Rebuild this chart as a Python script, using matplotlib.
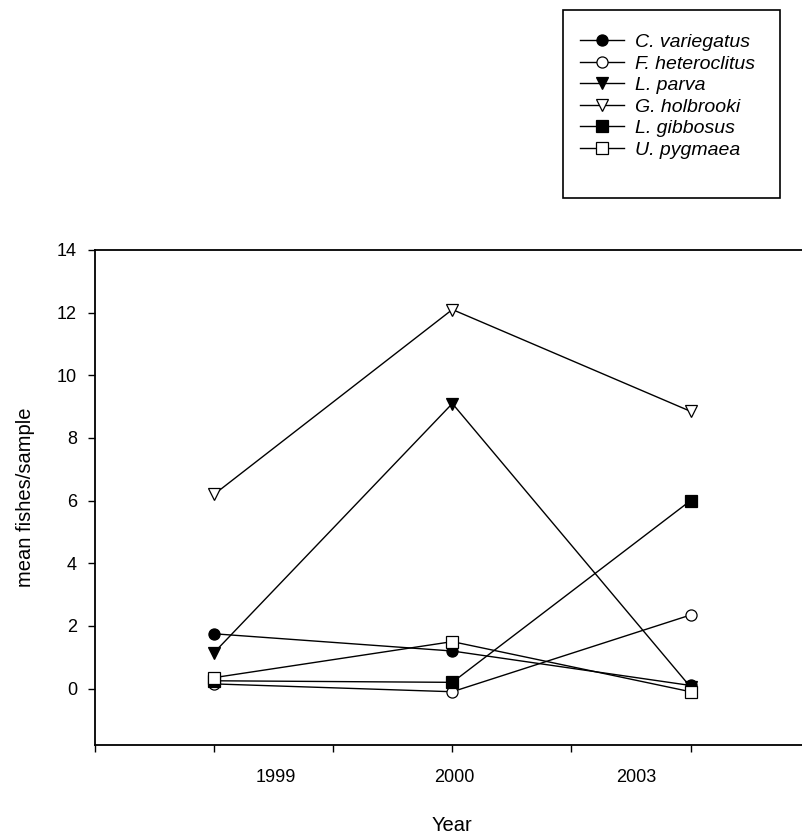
import matplotlib
matplotlib.use("Agg")
import matplotlib.pyplot as plt
from matplotlib.patches import Rectangle
from matplotlib.ticker import FixedLocator

plt.rcParams["font.family"] = ["Liberation Sans", "DejaVu Sans"]

years = ["1999", "2000", "2003"]
species = ["C. variegatus", "F. heteroclitus", "L. parva", "G. holbrooki", "L. gibbosus", "U. pygmaea"]
c_variegatus = [1.75, 1.2, 0.1]
f_heteroclitus = [0.15, -0.1, 2.35]
l_parva = [1.15, 9.1, 0.05]
g_holbrooki = [6.2, 12.1, 8.85]
l_gibbosus = [0.25, 0.2, 6.0]
u_pygmaea = [0.35, 1.5, -0.1]

series = [c_variegatus, f_heteroclitus, l_parva, g_holbrooki, l_gibbosus, u_pygmaea]
markers = ["o", "o", "v", "v", "s", "s"]
faces = ["black", "white", "black", "white", "black", "white"]

W, H = 803, 840
fig = plt.figure(figsize=(W / 100, H / 100), dpi=100)
ax = fig.add_axes([95 / W, 1 - 745 / H, 0.89, (745 - 250) / H])

x = list(range(1, len(years) + 1))
for name, vals, m, fc in zip(species, series, markers, faces):
    ax.plot(x, vals, color="black", linewidth=1.0, marker=m, markersize=8,
            markerfacecolor=fc, markeredgecolor="black", markeredgewidth=0.9, label=name)

ax.set_xlim(0.5, 3.5)
ax.set_ylim(-1.8, 14)
ax.set_yticks(range(0, 15, 2))

# the year labels sit off the tick marks in the original figure
ax.set_xticks([1.26, 2.01, 2.77])
ax.set_xticklabels(years)
ax.xaxis.set_minor_locator(FixedLocator([0.5, 1, 1.5, 2, 2.5, 3]))
ax.tick_params(axis="x", which="major", length=0, labelsize=13, pad=17)
ax.tick_params(axis="x", which="minor", direction="out", length=5, width=1)
ax.tick_params(axis="y", which="major", direction="out", length=5, width=1, labelsize=13, pad=8)
ax.spines["right"].set_visible(False)
for s in ["left", "bottom", "top"]:
    ax.spines[s].set_linewidth(1.3)

ax.set_xlabel("Year", fontsize=14.5, labelpad=22)
ax.set_ylabel("mean fishes/sample", fontsize=14.5, labelpad=16)

# legend box drawn separately, the original has a deep bottom margin
fig.patches.append(Rectangle((563 / W, 1 - 198 / H), (780 - 563) / W, (198 - 10) / H,
                             transform=fig.transFigure, fill=False, edgecolor="black", linewidth=1.2))
leg = fig.legend(loc="upper left", bbox_to_anchor=(564 / W, 1 - 18 / H), frameon=False,
                 prop={"style": "italic", "size": 14}, handlelength=2.3,
                 labelspacing=0.2, borderpad=0.3, handletextpad=0.55)

fig.savefig("out.png", dpi=100)
